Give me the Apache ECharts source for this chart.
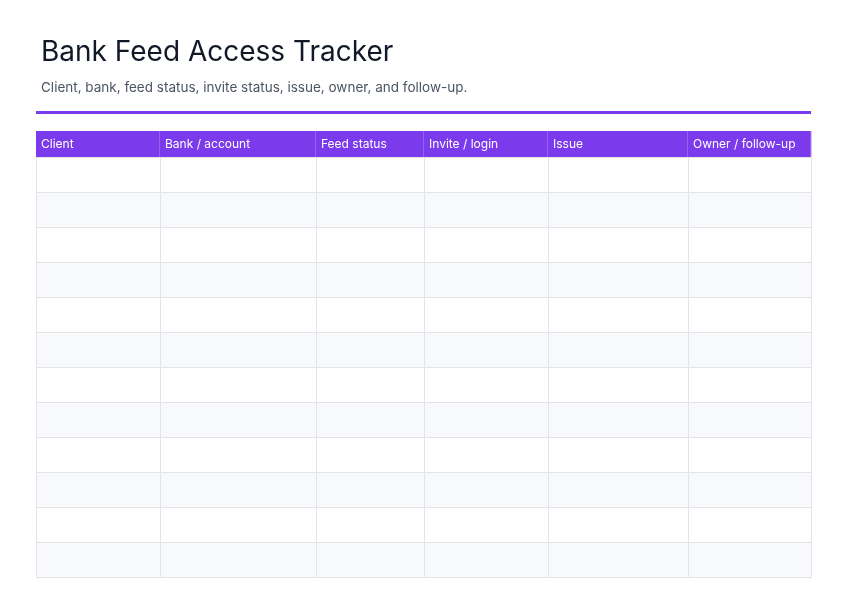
<!DOCTYPE html>
<html><head><meta charset="utf-8">
<script src="https://cdn.jsdelivr.net/npm/echarts@6/dist/echarts.min.js"></script>
<style>html,body{margin:0;padding:0;background:#fff}#c{width:848px;height:600px}</style>
</head><body><div id="c"></div>
<script>
const columns = ['Client','Bank / account','Feed status','Invite / login','Issue','Owner / follow-up'];
const columnWidths = [124,156,108,124,140,123];
const rowCount = 12;
const headerH = 26, rowH = 35;

const edges = [0];
columnWidths.forEach(w => edges.push(edges[edges.length-1] + w));
const totalW = edges[edges.length-1];
const totalH = headerH + rowCount * rowH;

const cells = [];
for (let c = 0; c < columns.length; c++) {
  cells.push([edges[c], edges[c+1], 0, headerH, -1, c]);
  for (let r = 0; r < rowCount; r++) {
    cells.push([edges[c], edges[c+1], headerH + r*rowH, headerH + (r+1)*rowH, r, c]);
  }
}
const font = 'Inter, "Noto Sans", sans-serif';
const chart = echarts.init(document.getElementById('c'), null, {renderer:'canvas'});
chart.setOption({
  animation: false,
  title: {
    text: 'Bank Feed Access Tracker',
    subtext: 'Client, bank, feed status, invite status, issue, owner, and follow-up.',
    left: 36, top: 34, itemGap: 14,
    textStyle: {fontFamily: font, fontSize: 28, fontWeight: 400, color: '#111827'},
    subtextStyle: {fontFamily: font, fontSize: 13.5, color: '#4b5563'}
  },
  graphic: [{type:'rect', shape:{x:36, y:111, width:775, height:3}, style:{fill:'#7c3aed'}}],
  grid: {left: 36, right: 848-36-totalW, top: 131, bottom: 600-131-totalH},
  xAxis: {type:'value', min:0, max: totalW, show:false},
  yAxis: {type:'value', min:0, max: totalH, inverse:true, show:false},
  series: [{
    type: 'custom',
    data: cells,
    renderItem: function(params, api) {
      const p0 = api.coord([api.value(0), api.value(2)]);
      const p1 = api.coord([api.value(1), api.value(3)]);
      const r = api.value(4), c = api.value(5);
      const w = p1[0]-p0[0], h = p1[1]-p0[1];
      if (r < 0) {
        return {type:'group', children:[
          {type:'rect', shape:{x:p0[0], y:p0[1], width:w, height:h}, style:{fill:'#7c3aed'}},
          {type:'rect', shape:{x:p0[0]+w-0.5, y:p0[1], width:1, height:h}, style:{fill:'#a78bfa'}},
          {type:'text', x:p0[0]+5, y:p0[1]+h/2, style:{text: columns[c], fill:'#ffffff', font:'12px '+font, verticalAlign:'middle', width: w-12, overflow:'truncate', ellipsis:'…'}}
        ]};
      }
      return {type:'rect', shape:{x:p0[0]+0.5, y:p0[1]+0.5, width:w, height:h},
        style:{fill: r%2===0 ? '#ffffff' : '#f8f9fb', stroke:'#e2e4e9', lineWidth:1}};
    }
  }]
});
</script></body></html>
